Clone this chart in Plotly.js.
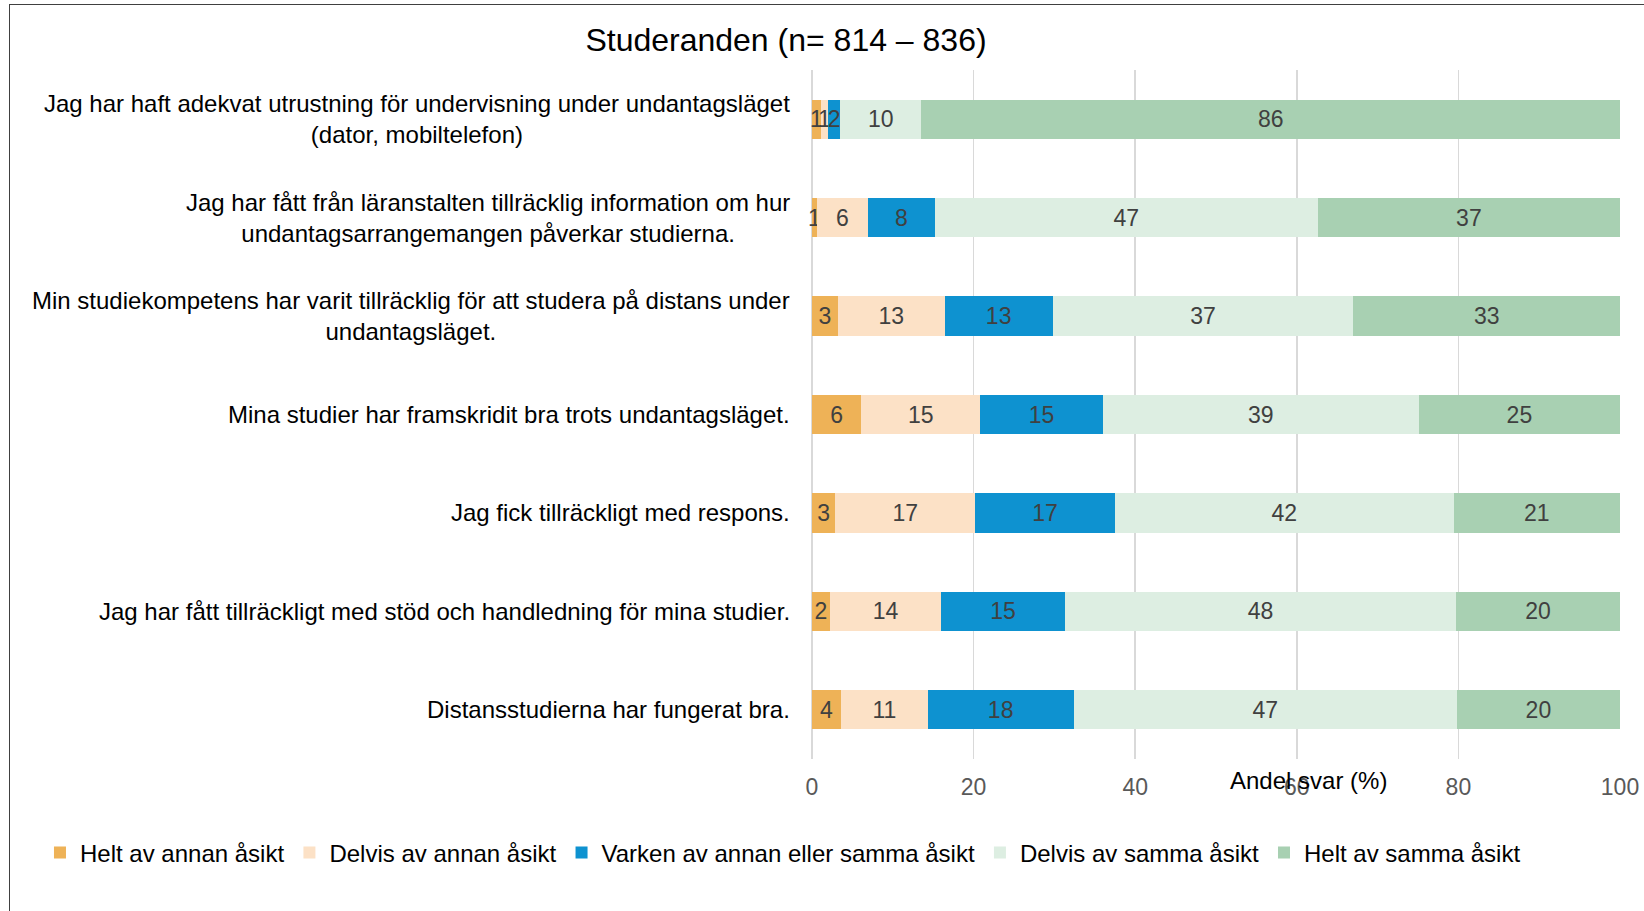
<!DOCTYPE html>
<html>
<head>
<meta charset="utf-8">
<script src="https://cdn.plot.ly/plotly-3.0.1.min.js"></script>
<style>
  html, body { margin: 0; padding: 0; background: #ffffff; }
  #wrap { position: relative; width: 1644px; height: 911px; overflow: hidden; }
  #chart { position: absolute; left: 0; top: 0; width: 1644px; height: 911px; }
  #frame { position: absolute; left: 9px; top: 4px; width: 1700px; height: 1000px;
           border-left: 1.5px solid #404040; border-top: 1.5px solid #404040; pointer-events: none; }
</style>
</head>
<body>
<div id="wrap">
  <div id="chart"></div>
  <div id="frame"></div>
</div>
<script>
const chartTitle = "Studeranden (n= 814 – 836)";
const axisTitle = "Andel svar (%)";

const categories = [
  "Jag har haft adekvat utrustning för undervisning under undantagsläget<br>(dator, mobiltelefon)",
  "Jag har fått från läranstalten tillräcklig information om hur<br>undantagsarrangemangen påverkar studierna.",
  "Min studiekompetens har varit tillräcklig för att studera på distans under<br>undantagsläget.",
  "Mina studier har framskridit bra trots undantagsläget.",
  "Jag fick tillräckligt med respons.",
  "Jag har fått tillräckligt med stöd och handledning för mina studier.",
  "Distansstudierna har fungerat bra."
];

const seriesNames = [
  "Helt av annan åsikt",
  "Delvis av annan åsikt",
  "Varken av annan eller samma åsikt",
  "Delvis av samma åsikt",
  "Helt av samma åsikt"
];

// Shares (%) per statement; labels show rounded values
const heltAvAnnan   = [1.07, 0.6, 3.2, 6.1, 2.9, 2.2, 3.6];
const delvisAvAnnan = [0.91, 6.3, 13.2, 14.7, 17.3, 13.8, 10.7];
const varken        = [1.52, 8.3, 13.4, 15.2, 17.3, 15.3, 18.1];
const delvisAvSamma = [10.04, 47.4, 37.2, 39.1, 41.9, 48.4, 47.4];
const heltAvSamma   = [86.46, 37.4, 33.0, 24.9, 20.6, 20.3, 20.2];

const xTicks = [0, 20, 40, 60, 80, 100];

const colors = ["#EEB257", "#FCE1C6", "#0E92D0", "#DDEEE2", "#A8D0B2"];

const FONT = "Liberation Sans, Arial, sans-serif";

const seriesValues = [heltAvAnnan, delvisAvAnnan, varken, delvisAvSamma, heltAvSamma];

const traces = seriesValues.map((vals, i) => ({
  type: "bar",
  orientation: "h",
  name: seriesNames[i],
  y: categories,
  x: vals,
  text: vals.map(v => String(Math.round(v))),
  textposition: "inside",
  insidetextanchor: "middle",
  textangle: 0,
  constraintext: "none",
  cliponaxis: false,
  textfont: { family: FONT, size: 23, color: "#404040" },
  marker: { color: colors[i], line: { width: 0 } },
  hoverinfo: "skip"
}));

const annotations = categories.map(c => ({
  text: c,
  xref: "paper", x: 0, xshift: -20,
  yref: "y", y: c,
  xanchor: "right", yanchor: "middle",
  align: "center",
  showarrow: false,
  font: { family: FONT, size: 24, color: "#000000" }
}));

annotations.push({
  text: axisTitle,
  xref: "x", x: 61.4,
  yref: "paper", y: 0, yshift: -21,
  xanchor: "center", yanchor: "middle",
  showarrow: false,
  font: { family: FONT, size: 24, color: "#000000" }
});

const layout = {
  width: 1644,
  height: 911,
  margin: { l: 811.5, r: 24, t: 70, b: 152 },
  paper_bgcolor: "rgba(0,0,0,0)",
  plot_bgcolor: "rgba(0,0,0,0)",
  barmode: "stack",
  bargap: 0.6,
  title: {
    text: chartTitle,
    font: { family: FONT, size: 32, color: "#000000" },
    xref: "container", x: 786 / 1644, xanchor: "center",
    yref: "container", y: 1 - 40 / 911, yanchor: "middle"
  },
  xaxis: {
    range: [0, 100],
    tickvals: xTicks,
    ticktext: xTicks.map(String),
    showgrid: true,
    gridcolor: "#D9D9D9",
    gridwidth: 1.5,
    zeroline: true,
    zerolinecolor: "#D9D9D9",
    zerolinewidth: 1.5,
    showline: false,
    ticks: "",
    ticklabelstandoff: 12,
    tickfont: { family: FONT, size: 23, color: "#595959" },
    fixedrange: true
  },
  yaxis: {
    type: "category",
    categoryorder: "array",
    categoryarray: categories,
    autorange: "reversed",
    showticklabels: false,
    showgrid: false,
    zeroline: false,
    showline: false,
    ticks: "",
    fixedrange: true
  },
  showlegend: true,
  legend: {
    orientation: "h",
    traceorder: "normal",
    xref: "paper", x: (39 - 811.5) / 808.5, xanchor: "left",
    yref: "paper", y: (759 - 853) / 689, yanchor: "middle",
    font: { family: FONT, size: 24, color: "#000000" },
    bgcolor: "rgba(0,0,0,0)",
    itemclick: false,
    itemdoubleclick: false
  },
  annotations: annotations
};

Plotly.newPlot("chart", traces, layout, { displayModeBar: false, staticPlot: true });
</script>
</body>
</html>
